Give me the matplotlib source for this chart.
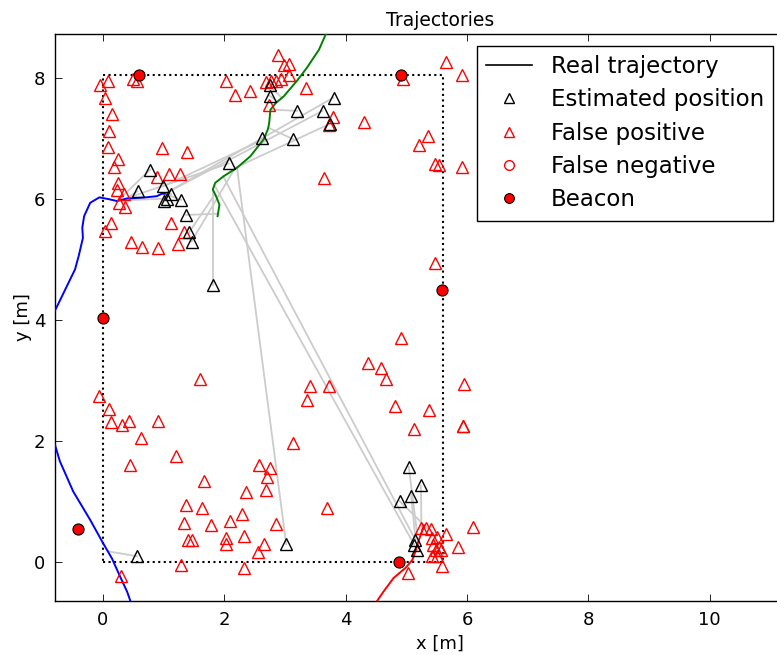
import matplotlib
matplotlib.use("Agg")
import matplotlib.pyplot as plt

# beacons
beacon_x = [0.59, 4.91, 0.0, 5.58, -0.41, 4.88]
beacon_y = [8.04, 8.04, 4.03, 4.49, 0.54, 0.0]

# room outline (dotted)
room_x = [0, 5.6, 5.6, 0, 0]
room_y = [0, 0, 8.05, 8.05, 0]

# real trajectories
blue_low_x = [0.47, 0.40, 0.28, 0.15, 0.00, -0.21, -0.49, -0.71, -0.79, -0.85]
blue_low_y = [-0.70, -0.50, -0.24, 0.05, 0.31, 0.69, 1.16, 1.66, 1.93, 2.05]
blue_up_x = [-0.85, -0.77, -0.62, -0.46, -0.40, -0.33, -0.34, -0.31, -0.21, -0.06,
             0.10, 0.23, 0.39, 0.70, 0.89, 0.97, 1.02]
blue_up_y = [4.05, 4.19, 4.50, 4.83, 5.05, 5.35, 5.52, 5.71, 5.93, 6.02,
             5.99, 5.96, 6.00, 6.02, 6.04, 6.08, 6.08]
green_x = [1.89, 1.92, 1.86, 1.81, 1.85, 1.99, 2.21, 2.43, 2.65, 2.72, 2.74, 2.76,
           2.85, 2.98, 3.20, 3.36, 3.50, 3.56, 3.67, 3.72]
green_y = [5.71, 5.90, 6.05, 6.15, 6.26, 6.37, 6.51, 6.70, 6.98, 7.15, 7.25, 7.47,
           7.58, 7.69, 7.95, 8.16, 8.37, 8.46, 8.71, 8.85]
red_x = [4.45, 4.62, 4.79, 4.99, 5.10, 5.15, 5.19, 5.24, 5.29]
red_y = [-0.75, -0.50, -0.27, -0.10, 0.03, 0.17, 0.31, 0.45, 0.60]

# estimated positions and the real position they belong to
est_x = [0.56, 3.02, 5.13, 5.15, 5.17, 4.89, 5.04, 5.24, 5.08, 0.78, 0.57, 0.99,
         1.12, 1.06, 1.00, 1.29, 1.37, 1.42, 1.46, 1.82, 2.07, 2.62, 2.75, 2.75,
         3.20, 3.14, 3.62, 3.80, 3.75]
est_y = [0.09, 0.29, 0.28, 0.36, 0.20, 1.00, 1.57, 1.26, 1.09, 6.48, 6.12, 6.20,
         6.08, 6.00, 5.96, 5.98, 5.73, 5.44, 5.29, 4.58, 6.58, 7.00, 7.87, 7.70,
         7.45, 6.98, 7.45, 7.67, 7.24]
true_x = [0.09, 2.21, 1.85, 1.98, 5.16, 5.35, 5.18, 5.25, 5.15, 0.28, 0.40, 2.65,
          1.02, 0.30, 1.02, 1.02, 1.90, 1.83, 2.18, 1.82, 0.40, 2.65, 2.95, 2.88,
          2.78, 2.73, 1.02, 1.02, 2.18]
true_y = [0.17, 6.51, 6.20, 6.37, 0.20, 0.55, 0.45, 0.52, 0.38, 6.00, 6.01, 6.98,
          6.08, 5.97, 6.08, 6.08, 5.75, 6.05, 6.51, 6.12, 6.01, 6.98, 7.66, 7.60,
          7.47, 7.17, 6.08, 6.08, 6.51]

# false positives
fp_x = [-0.05, 0.09, 0.03, 0.15, 0.10, 0.09, 0.25, 0.19, 0.25, 0.23, 0.35, 0.26,
        0.37, 0.13, 0.04, 0.47, 0.64, 0.91, 1.24, 1.12, 1.34, 0.98, 1.39, 0.89,
        1.09, 1.27, 0.49, 0.56,
        2.03, 2.18, 2.43, 3.34, 2.73, 3.79, 3.73, 3.64,
        2.885, 2.98, 3.06, 3.07, 2.69, 2.77, 2.86, 2.93,
        5.66, 5.92, 4.94, 4.30, 5.35, 5.21, 5.48, 5.54, 5.91, 5.48,
        1.60, -0.06, 0.10, 0.14, 0.31, 0.43, 0.90, 0.63, 0.45, 1.21, 1.66, 1.37,
        1.64, 1.34, 1.78, 1.41, 1.46, 2.03, 2.03, 2.10, 2.29, 2.33, 2.35, 2.58,
        2.76, 2.71, 2.69, 2.85, 2.65, 2.55, 2.32, 1.29, 0.29, 3.14, 3.42, 3.73,
        3.36, 3.69,
        4.91, 4.37, 4.59, 4.67, 5.95, 4.81, 5.37, 5.93, 5.94, 5.12,
        5.24, 5.32, 5.40, 5.65, 5.43, 5.51, 5.44, 5.54, 5.49, 5.57, 5.43, 5.51,
        5.59, 5.85, 6.10, 5.03]
fp_y = [7.88, 7.94, 7.66, 7.39, 7.11, 6.86, 6.66, 6.52, 6.26, 6.15, 6.07, 5.92,
        5.86, 5.59, 5.46, 5.28, 5.20, 5.18, 5.25, 5.60, 5.44, 6.84, 6.77, 6.35,
        6.40, 6.41, 7.97, 7.95,
        7.94, 7.71, 7.77, 7.82, 7.54, 7.35, 7.21, 6.34,
        8.38, 8.21, 8.23, 8.04, 7.92, 7.94, 7.94, 7.98,
        8.25, 8.05, 7.97, 7.26, 7.03, 6.88, 6.57, 6.55, 6.52, 4.94,
        3.02, 2.74, 2.52, 2.30, 2.26, 2.33, 2.33, 2.04, 1.60, 1.75, 1.33, 0.94,
        0.89, 0.64, 0.61, 0.35, 0.35, 0.39, 0.30, 0.67, 0.78, 0.43, 1.15, 1.60,
        1.55, 1.40, 1.18, 0.62, 0.29, 0.16, -0.10, -0.05, -0.23, 1.96, 2.91, 2.91,
        2.67, 0.88,
        3.70, 3.28, 3.20, 3.02, 2.93, 2.57, 2.51, 2.25, 2.24, 2.19,
        0.56, 0.56, 0.54, 0.45, 0.39, 0.41, 0.28, 0.25, 0.20, 0.20, 0.10, 0.09,
        -0.07, 0.25, 0.57, -0.18]

# false negatives (none in this run)
fn_x = []
fn_y = []

W, H = 777, 655
fig = plt.figure(figsize=(W / 100, H / 100), dpi=100)
fig.patch.set_facecolor("white")
ax = fig.add_axes([55 / W, (H - 601) / H, (825 - 55) / W, (601 - 34) / H])

for ex, ey, tx, ty in zip(est_x, est_y, true_x, true_y):
    ax.plot([ex, tx], [ey, ty], color="0.8", lw=1.3, zorder=1)

ax.plot(room_x, room_y, "k:", lw=1.5, zorder=2)
ax.plot(blue_low_x, blue_low_y, color="b", lw=1.4, zorder=3)
ax.plot(blue_up_x, blue_up_y, color="b", lw=1.4, zorder=3)
ax.plot(green_x, green_y, color=(0, 0.5, 0), lw=1.4, zorder=3)
ax.plot(red_x, red_y, color="r", lw=1.4, zorder=3)

ax.plot(fp_x, fp_y, "^", ms=9, mfc="none", mec="r", mew=1.0, zorder=4)
ax.plot(est_x, est_y, "^", ms=9, mfc="none", mec="k", mew=1.0, zorder=5)
ax.plot(fn_x, fn_y, "o", ms=9, mfc="none", mec="r", mew=1.0, zorder=5)
ax.plot(beacon_x, beacon_y, "o", ms=8, mfc="r", mec="k", mew=0.8, zorder=6)

# legend handles
h_real, = ax.plot([], [], "k-", lw=1.2, label="Real trajectory")
h_est, = ax.plot([], [], "^", ms=7, mfc="none", mec="k", label="Estimated position")
h_fp, = ax.plot([], [], "^", ms=7, mfc="none", mec="r", label="False positive")
h_fn, = ax.plot([], [], "o", ms=7, mfc="none", mec="r", label="False negative")
h_b, = ax.plot([], [], "o", ms=7, mfc="r", mec="k", mew=0.8, label="Beacon")
leg = ax.legend(handles=[h_real, h_est, h_fp, h_fn, h_b], loc="upper right",
                bbox_to_anchor=(773 / W, 1 - 46 / H), bbox_transform=fig.transFigure,
                borderaxespad=0, numpoints=1, fontsize=16.5, fancybox=False,
                framealpha=1, handlelength=2.0, labelspacing=0.45)
leg.get_frame().set_edgecolor("k")
leg.get_frame().set_linewidth(1.0)

ax.set_xlim(-0.79, 11.9)
ax.set_ylim(-0.65, 8.72)
ax.set_xticks([0, 2, 4, 6, 8, 10])
ax.set_yticks([0, 2, 4, 6, 8])
ax.tick_params(direction="in", top=True, right=True, length=5, width=0.6, labelsize=13, pad=7)
for s in ax.spines.values():
    s.set_linewidth(1.0)

ax.set_title("Trajectories", fontsize=13.5, pad=6)
ax.set_xlabel("x [m]", fontsize=13)
ax.set_ylabel("y [m]", fontsize=13, labelpad=1.5)

fig.savefig("out.png", dpi=100, facecolor="white")
